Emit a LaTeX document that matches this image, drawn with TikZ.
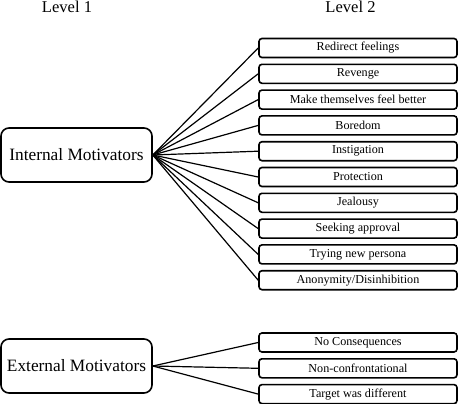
\documentclass[tikz,border=0pt]{standalone}
\usepackage{fontspec}
\setmainfont{Liberation Serif}
\usetikzlibrary{positioning}

\begin{document}
\begin{tikzpicture}[x=0.75pt,y=-0.75pt,node distance=3.9pt,
  motive/.style={draw,line width=1.2pt,rounded corners=6pt,minimum width=113.25pt,minimum height=40.5pt,inner sep=0pt,font=\fontsize{13}{15}\selectfont},
  reason/.style={draw,line width=1.2pt,rounded corners=2.25pt,minimum width=148.5pt,minimum height=14.25pt,inner sep=0pt,font=\fontsize{9.1}{11}\selectfont},
  level/.style={anchor=base,font=\fontsize{12.4}{14}\selectfont},
  every edge/.style={draw,line width=0.9pt}]

\useasboundingbox (0,0) rectangle (458,404);

\node[level](lvl1) at (67,12.7){Level 1};
\node[level](lvl2) at (350.5,12.7){Level 2};

\node[motive](intm) at (76.5,155){Internal Motivators};
\node[reason](m1) at (358,48){Redirect feelings};
\node[reason](m2)[below=of m1]{Revenge};
\node[reason](m3)[below=of m2]{Make themselves feel better};
\node[reason](m4)[below=of m3]{Boredom};
\node[reason](m5)[below=of m4]{Instigation};
\node[reason](m6)[below=of m5]{Protection};
\node[reason](m7)[below=of m6]{Jealousy};
\node[reason](m8)[below=of m7]{Seeking approval};
\node[reason](m9)[below=of m8]{Trying new persona};
\node[reason](m10)[below=of m9]{Anonymity/Disinhibition};

\node[motive](extm) at (76.5,366){External Motivators};
\node[reason](e1) at (358,342.5){No Consequences};
\node[reason](e2)[below=of e1]{Non-confrontational};
\node[reason](e3)[below=of e2]{Target was different};

\path(intm.east)edge(m1.west)
	(intm.east)edge(m2.west)
	(intm.east)edge(m3.west)
	(intm.east)edge(m4.west)
	(intm.east)edge(m5.west)
	(intm.east)edge(m6.west)
	(intm.east)edge(m7.west)
	(intm.east)edge(m8.west)
	(intm.east)edge(m9.west)
	(intm.east)edge(m10.west)
	(extm.east)edge(e1.west)
	(extm.east)edge(e2.west)
	(extm.east)edge(e3.west);

\end{tikzpicture}
\end{document}
